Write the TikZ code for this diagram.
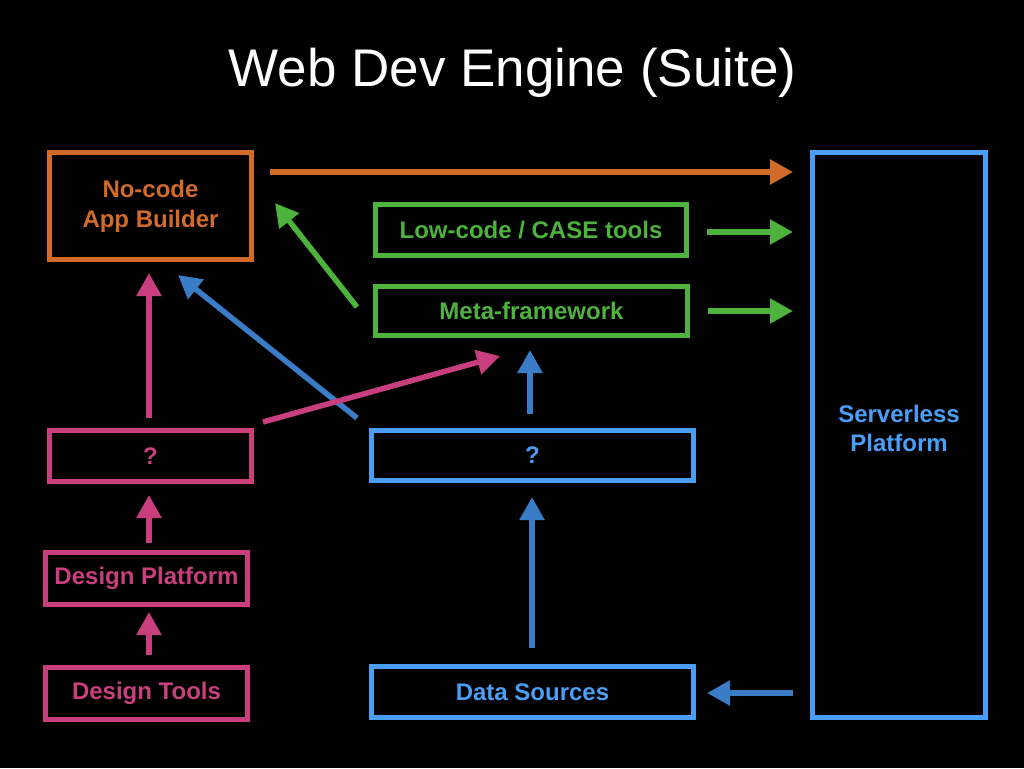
\documentclass[tikz,border=0pt]{standalone}
\usepackage{fontspec}
\setmainfont{Liberation Sans}
\usetikzlibrary{arrows.meta,calc}
\definecolor{corange}{HTML}{D26B29}
\definecolor{cgreen}{HTML}{4DB33D}
\definecolor{cpink}{HTML}{C93F7E}
\definecolor{cblue}{HTML}{4A9EF5}
\definecolor{cdblue}{HTML}{3A7CC5}
\begin{document}
\begin{tikzpicture}[x=1pt,y=-1pt,
  box/.style={draw,line width=5pt,rectangle,inner sep=0pt,outer sep=0pt,align=center,
    font=\fontsize{24}{30}\selectfont\bfseries},
  conn/.style={line width=5.5pt,-{Triangle[length=23pt,width=24pt]}}]
\path[fill=black,use as bounding box] (0,0) rectangle (1024,768);
\node[white,font=\fontsize{53}{60}\selectfont] (title) at (512.5,73) {Web Dev Engine (Suite)};

\node[box,corange,minimum width=202pt,minimum height=107pt] (nocode) at (150.5,206) {No-code\\App Builder};
\node[box,cgreen,minimum width=311pt,minimum height=51pt] (lowcode) at (531,230) {Low-code / CASE tools};
\node[box,cgreen,minimum width=312pt,minimum height=49pt] (meta) at (531.5,311) {Meta-framework};
\node[box,cblue,minimum width=173pt,minimum height=565pt] (serverless) at (899,435) {};
\node[cblue,align=center,font=\fontsize{24}{29}\selectfont\bfseries] (serverlessLabel) at (899,428) {Serverless\\Platform};
\node[box,cpink,minimum width=202pt,minimum height=51pt] (q1) at (150.5,456) {?};
\node[box,cblue,minimum width=322pt,minimum height=50pt] (q2) at (532.5,455.5) {?};
\node[box,cpink,minimum width=202pt,minimum height=52pt] (dplat) at (146.5,578.5) {Design Platform};
\node[box,cpink,minimum width=202pt,minimum height=52pt] (dtools) at (146.5,693.5) {Design Tools};
\node[box,cblue,minimum width=322pt,minimum height=51pt] (data) at (532.5,692) {Data Sources};

\draw[conn,corange] ($(nocode.north east)+(18.5,19.5)$) -- ($(serverless.north west)+(-19.5,19.5)$);
\draw[conn,cgreen] ($(lowcode.east)+(20.5,2)$) -- ($(serverless.north west)+(-19.5,79.5)$);
\draw[conn,cgreen] ($(meta.east)+(20,0)$) -- ($(serverless.north west)+(-19.5,158.5)$);
\draw[conn,cgreen] ($(meta.west)+(-18.5,-4)$) -- ($(nocode.east)+(23.5,-3)$);
\draw[conn,cpink] ($(q1.north)+(-1.5,-12.5)$) -- ($(nocode.south)+(-1.5,13.5)$);
\draw[conn,cdblue] ($(q2.north west)+(-14.5,-12.5)$) -- ($(nocode.south east)+(-73.5,15.5)$);
\draw[conn,cpink] ($(q1.north east)+(11.5,-8.5)$) -- ($(meta.south)+(-31.5,20.5)$);
\draw[conn,cdblue] ($(q2.north)+(-2.5,-16.5)$) -- ($(meta.south)+(-1.5,14.5)$);
\draw[conn,cpink] ($(dplat.north)+(2.5,-9.5)$) -- ($(q1.south)+(-1.5,13.5)$);
\draw[conn,cpink] ($(dtools.north)+(2.5,-12.5)$) -- ($(dplat.south)+(2.5,7.5)$);
\draw[conn,cdblue] ($(data.north)+(-0.5,-18.5)$) -- ($(q2.south)+(-0.5,16.5)$);
\draw[conn,cdblue] ($(serverless.south west)+(-19.5,-24.5)$) -- ($(data.east)+(13.5,1)$);
\end{tikzpicture}
\end{document}
